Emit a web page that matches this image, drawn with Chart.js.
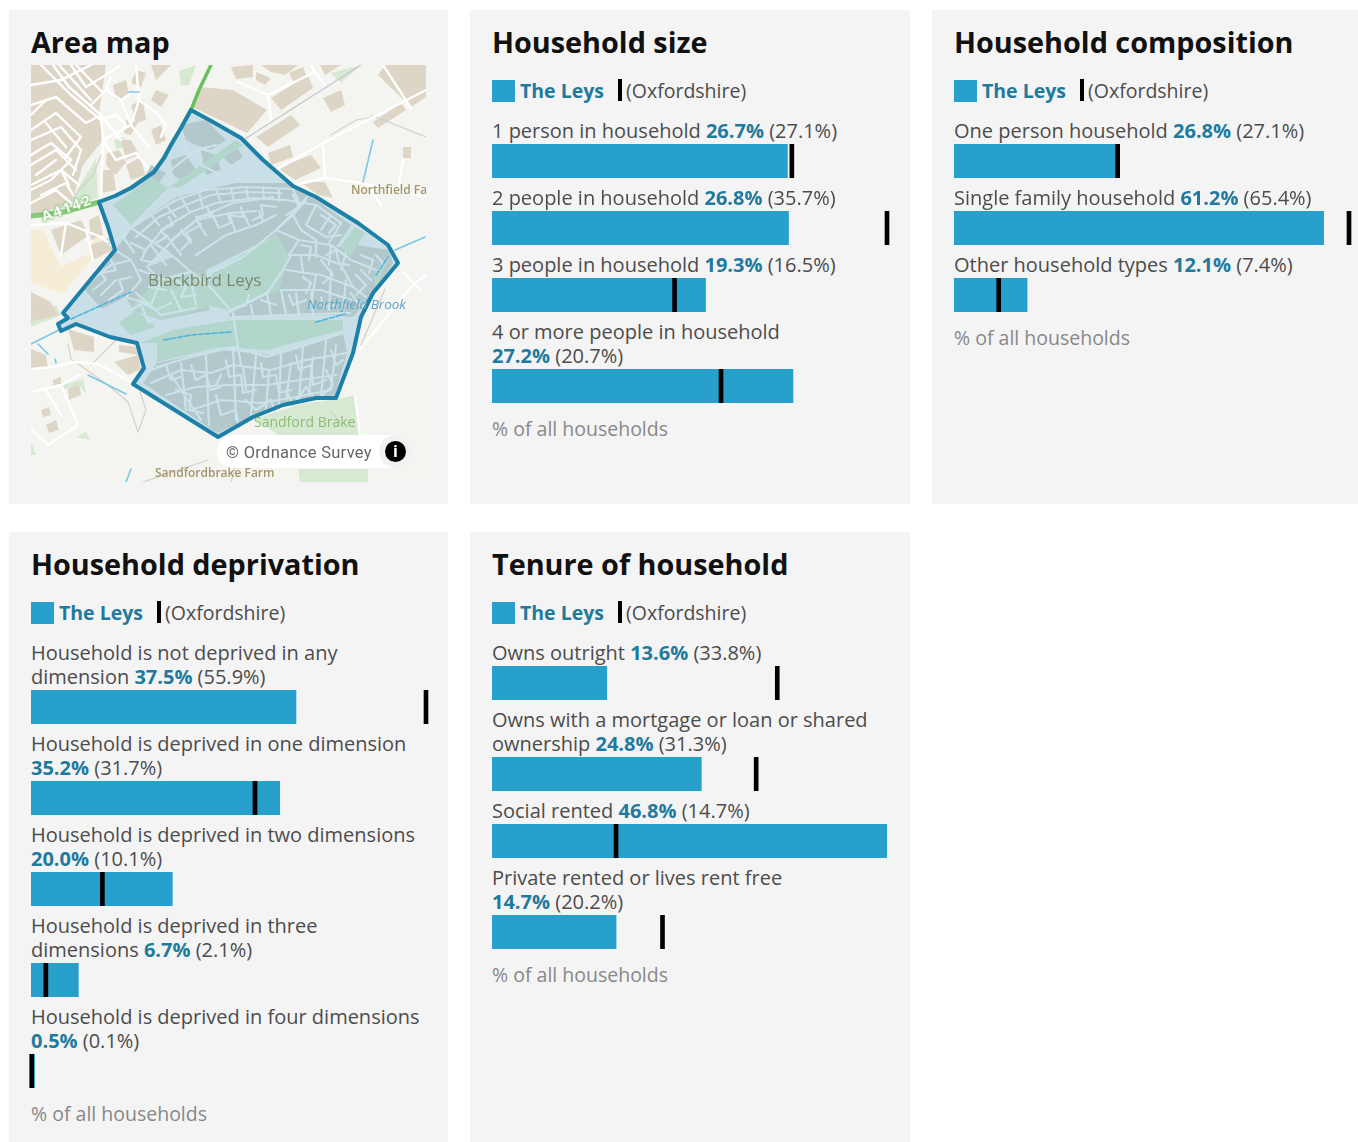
<!DOCTYPE html>
<html>
<head>
<meta charset="utf-8">
<title>The Leys households</title>
<script src="https://cdn.jsdelivr.net/npm/chart.js@4"></script>
<style>
  html, body { margin: 0; padding: 0; background: #fff; }
  body { position: relative; width: 1358px; height: 1142px; overflow: hidden; font-family: "Open Sans", sans-serif; color: #4c4c4c; }
  .panel { position: absolute; background: #f4f4f4; box-sizing: border-box; }
  .panel h2 { position: absolute; left: 22px; top: 14px; margin: 0; font-size: 28.8px; line-height: 36px; font-weight: 700; color: #111; white-space: nowrap; }
  .legend { position: absolute; left: 22px; top: 70px; height: 23px; font-size: 19.5px; line-height: 22px; white-space: nowrap; }
  .legend i { position: absolute; top: 0; }
  .legend .sq { left: 0; width: 23px; height: 22px; background: #27a0cc; }
  .legend .tick { width: 4px; height: 22px; background: #000; top: -1px; }
  .legend b, .row b { color: #1f7a9e; font-weight: 700; }
  .legend b { position: absolute; left: 28px; }
  .legend span { position: absolute; }
  .rows { position: absolute; left: 22px; top: 109px; width: 410px; }
  .row .label { font-size: 20px; line-height: 24px; white-space: pre-line; margin-bottom: 1px; }
  .row canvas { display: block; margin: 0 0 8px -3px; }
  .foot { margin-top: 14px; font-size: 19.5px; line-height: 24px; color: #888; }
  #mapBox { position: absolute; left: 22px; top: 55px; width: 395px; height: 417px; overflow: hidden; background: #f4f4f0; }
  #mapBox canvas { filter: blur(0.6px); }
  #mapBox div { position: absolute; white-space: nowrap; }
  .blackbird { left: 117px; top: 203px; font-size: 17px; color: #7d876e; }
  .brook { left: 276px; top: 230px; font-size: 13.5px; font-style: italic; color: #5aa5c8; }
  .farm { left: 320px; top: 116px; font-size: 12px; font-weight: 600; color: #a3966c; }
  .farm2 { left: 124px; top: 399px; font-size: 12px; font-weight: 600; color: #a3966c; }
  .brake { left: 223px; top: 347px; font-size: 14px; color: #8cbc72; }
  .road { left: 9px; top: 132px; font-size: 15px; font-weight: 700; letter-spacing: 1.6px; color: #fff; transform: rotate(-20deg); text-shadow: 0 0 2px #6fb95f, 0 0 2px #6fb95f, 0 0 3px #6fb95f; }
  .pill { left: 186px; top: 370px; width: 195px; height: 33px; background: #fff; border-radius: 16px; }
  .os { left: 195px; top: 377px; font-family: Roboto, sans-serif; font-size: 16.5px; line-height: 21px; letter-spacing: 0.3px; color: #666; }
  .halo { left: 348px; top: 370px; width: 33px; height: 33px; border-radius: 50%; background: #f1f1f1; }
  .info { left: 354px; top: 376px; width: 21px; height: 21px; border-radius: 50%; background: #000; color: #fff; text-align: center; font: 700 16px/21px "Open Sans", sans-serif; }
</style>
</head>
<body>
<script>
const leysColour = '#27a0cc';

// household size
const sizeCategories = ['1 person in household', '2 people in household', '3 people in household', '4 or more people in household\n'];
const sizeLeys = [26.7, 26.8, 19.3, 27.2];
const sizeOxon = [27.1, 35.7, 16.5, 20.7];

// household composition
const compCategories = ['One person household', 'Single family household', 'Other household types'];
const compLeys = [26.8, 61.2, 12.1];
const compOxon = [27.1, 65.4, 7.4];

// deprivation
const deprCategories = ['Household is not deprived in any\ndimension', 'Household is deprived in one dimension\n', 'Household is deprived in two dimensions\n', 'Household is deprived in three\ndimensions', 'Household is deprived in four dimensions\n'];
const deprLeys = [37.5, 35.2, 20.0, 6.7, 0.5];
const deprOxon = [55.9, 31.7, 10.1, 2.1, 0.1];

// tenure
const tenureCategories = ['Owns outright', 'Owns with a mortgage or loan or shared\nownership', 'Social rented', 'Private rented or lives rent free\n'];
const tenureLeys = [13.6, 24.8, 46.8, 14.7];
const tenureOxon = [33.8, 31.3, 14.7, 20.2];

// map shapes, flat x,y lists in map units
const mapBoundary = [160,45,182,57,210,73,232,95,262,121,285,132,327,158,357,180,367,198,342,228,330,252,322,288,305,333,285,333,252,340,222,352,187,372,102,319,113,303,106,278,79,272,45,259,30,266,27,259,37,253,32,248,84,185,77,162,68,137,84,131,100,123,123,107,133,93,140,80,150,63,160,45];
const mapSand = [[0,165,12,165,29,202,59,188,65,165,72,185,58,198,32,228,0,218]];
const mapGreen = [[37,140,65,93,67,133],[13,42,23,35,30,48,22,53],[0,52,8,50,10,64,0,66],[148,6,165,0,158,20,150,20],[83,75,93,72,95,82,85,84],[224,354,270,339,307,334,325,330,329,370,247,370],[267,404,337,404,337,417,269,417],[45,372,55,367,59,375],[0,377,5,390,0,390],[32,320,52,314,55,329,50,322,33,324],[0,255,25,240,30,250,0,262],[300,8,330,0,310,18]];
const mapTan = [
  [0,0,75,0,68,48,72,75,52,100,40,140,0,150],[58,155,68,150,72,170,60,175],[20,165,50,155,58,170,30,190],[60,180,80,172,82,185,62,195],
  [169,22,202,25,236,45,216,68,189,55,161,42],[240,33,277,10,282,23,250,45],[225,72,260,50,269,60,237,82],[230,0,267,0,254,10,240,7],[289,0,310,0,294,10],
  [354,0,395,0,395,32,380,42,347,10],[292,33,310,25,314,40,300,47],[225,7,240,13,234,20,225,15],[342,57,370,38,375,45,347,63],[372,82,380,82,380,93,372,93],
  [237,88,259,80,262,92,240,100],[247,103,280,90,290,103,264,115],[269,117,294,117,302,133,287,130],[258,8,272,2,276,12,262,16],[200,2,222,0,222,12,205,14],
  [100,40,112,35,115,55,105,58],[120,65,130,60,135,75,125,80],[95,55,107,57,100,70,93,68],[120,0,140,0,125,15],[90,75,100,75,108,90,95,95],[76,88,88,85,95,97,85,110,75,100],[105,5,115,8,110,22,100,18],[125,25,138,30,130,42,120,35],[82,20,95,15,98,30,85,35],[70,105,82,105,85,125,72,128],[95,100,110,92,114,110,100,115],
  [37,264,63,272,63,287,43,285],[88,280,107,282,108,290,88,287],[83,297,107,290,110,304,97,310],[0,284,15,290,17,304,0,305],[37,324,48,320,50,330,38,335],[0,227,20,237,27,250,0,257],[10,345,18,342,20,350,12,352],[22,315,30,312,30,320,22,322],[15,360,25,355,28,365,18,368]
];
const mapRoads = [
  [0,20,30,15,60,0],[0,40,25,32,55,58,70,50],[22,0,38,22,70,50,72,75],[0,75,30,62,50,85,42,110],[0,100,25,85,45,105],[0,120,30,105,38,120],[0,138,25,125,40,138],[15,58,35,82],[40,0,55,22],[55,22,75,10,90,0],
  [10,0,40,30,70,55],[28,0,60,35],[45,0,72,28],[0,50,15,35],[0,65,25,48,50,72,35,92],[0,90,20,78,40,95,20,115,0,125],[5,110,25,95],[30,105,48,120],[10,130,35,118,42,130],[70,55,85,50,95,60,85,72],[75,25,90,35,105,25],[60,40,75,25,80,12],[90,35,100,60],
  [72,75,100,60,108,35,105,0],[72,75,85,95,105,88,118,105],[70,50,90,75],[72,75,70,130],[108,35,125,48,135,60,130,72],[100,60,118,82],
  [0,160,35,158,70,172,80,180],[35,158,30,190],[55,165,62,195],
  [245,105,294,77,370,38,395,25],[264,120,294,113,330,118,395,132],[292,80,294,113],[352,0,380,43],[207,17,237,30,240,53,237,60],[237,30,284,7,280,0],[284,7,294,20],
  [0,304,23,302,43,297,67,299,100,317],[0,327,30,320,47,360,17,380,0,364],[15,325,30,350],[30,320,48,310],[372,207,389,225],[329,284,382,220,395,210],[324,330,329,370],[337,120,350,140],[372,95,367,125]
];
const mapPaths = [[37,279,40,294,77,320,97,337,107,367,115,345,109,327],[112,417,177,395],[354,224,330,280],[309,357,300,347],[340,50,365,60,395,72],[300,70,325,55,342,52],[60,300,80,280,88,272],[205,400,200,417],[70,90,62,110,40,135]];
const mapWater = [[0,279,28,265],[364,185,394,172],[342,75,332,117],[100,404,95,417],[57,310,95,329],[7,279,17,289],[24,294,25,298],[98,27,108,27]];
const mapWaterInside = [[40,254,100,227],[345,210,357,192],[133,275,160,270,200,267],[285,257,314,249]];
const mapRail = [[330,0,217,72],[217,72,102,158,82,178]];
const mapHomes = [
  [84,185,102,162,142,175,116,202,102,228,69,245,52,225],[100,162,145,132,205,118,255,118,285,135,320,160,305,182,325,180,358,185,362,198,342,228,322,252,300,250,200,252,196,248,245,225,258,190,245,170,175,205,142,192],
  [116,202,142,192,175,205,178,245,130,255,102,245,95,232],[126,298,189,285,240,290,312,268,316,288,304,330,252,338,186,368,112,318],
  [150,60,175,55,195,75,180,85,165,80,155,75],[140,95,155,90,165,105,150,115,142,110],[170,85,185,90,190,105,175,110],[120,100,135,108,128,118,115,110],[190,90,205,80,212,92,200,100]
];
const mapParks = [
  [182,207,245,170,258,190,248,225,196,245,175,240],[100,242,130,212,160,205,180,215,175,243,130,255],[109,278,142,265,202,255,312,255,312,265,236,285,189,282,126,297,126,278],
  [82,140,120,112,137,123,100,160],[137,123,205,75,212,80,150,122],[309,182,324,162,334,168,319,192],[342,212,359,192,345,222],[88,258,105,245,125,262,100,270]
];
const mapStreets = [
  [100,163,120,150,145,135,175,125,215,122,262,124],[113,187,133,163,160,147,185,138,222,133,255,135,285,140,310,158],[140,175,165,155,200,148,225,146],[165,190,195,170,225,160,245,150],
  [120,150,128,160],[135,140,145,152],[150,132,158,146],[168,127,172,143],[185,124,190,138],[200,123,203,136],[215,122,217,134],[232,122,233,134],[248,124,248,136],[262,124,268,138],
  [150,165,160,178],[165,155,175,170],[180,147,188,163],[198,148,204,165],[212,148,218,160],[228,146,232,156],
  [275,135,262,150,270,165,285,175],[285,140,275,160,295,172,310,170],[300,150,290,165],[310,158,298,178],[262,150,245,165],
  [245,165,268,175,300,180,320,195,345,205],[258,190,285,190,310,200,322,222,335,232],[268,175,258,190],[285,175,285,192],[300,180,298,200],[315,188,310,205],[255,205,290,210,322,222],[270,192,272,208],[285,210,280,240],[300,205,298,245],[315,215,312,245],[330,205,340,215],[252,225,290,225,320,235],
  [196,248,236,228],[202,252,255,250,319,248],[220,240,222,252],[236,228,240,250],[250,225,255,250],[265,228,268,250],[280,228,282,250],
  [84,185,100,195,110,215,95,232],[60,215,80,200,100,195],[70,230,85,215],[75,180,95,170],[92,172,103,187],[116,202,130,215,160,207],[130,215,120,240,95,232],[105,228,130,250,165,243],[140,225,150,245],[160,215,165,240],[110,240,118,258],[135,170,150,190],[120,180,135,200],
  [100,163,85,178],[82,143,100,163,137,187,160,207,182,225,202,248,205,270,210,300],[52,225,75,250,92,268],[182,207,212,192,245,165,262,148,276,132],[116,202,142,175,169,152,202,138,242,132],[196,248,236,228,252,205,259,192],
  [126,302,160,292,202,282,236,292,275,280,312,268],[120,318,150,305,180,308,202,300,240,305,275,295,316,288],[135,330,165,322,200,320,235,320,270,315,305,310],[160,345,190,335,230,338,265,332,300,325],
  [150,298,155,345],[175,290,178,360],[202,282,205,355],[225,290,220,350],[250,288,248,340],[272,282,268,335],[295,275,290,332],[140,310,170,355],[190,310,185,320],[212,302,215,325],[238,305,235,345],[260,298,255,335],[282,292,278,330],[305,280,300,325],
  [140,105,165,85,185,80],[150,65,155,88],[170,100,200,115],
  [105,172,128,152,155,140,180,130,215,127,250,128],[125,178,135,172,130,165,142,160,138,152],[150,185,160,175,155,168,170,160,165,152,180,150,176,142],[190,162,200,158,197,150,212,152,210,142],[222,155,232,150,230,140,245,142],[255,150,268,142,262,130],[290,150,305,160,298,168],[270,180,280,182,278,195],[295,190,305,185,308,198,318,200],[330,190,342,195,338,208],[345,190,352,198,346,208],
  [120,305,135,300,140,315,150,312],[160,300,165,315,175,310,180,325,190,322],[195,295,198,312,210,310,212,328,225,325],[230,298,232,312,245,310,248,328,260,325],[265,290,268,305,280,300,282,320,295,315],[300,285,305,300,312,295],[145,325,160,330,158,345,172,348],[185,330,190,350,205,345,208,362],[215,335,225,345,240,335,245,350],[255,325,262,340,275,322,285,335],[295,305,302,320,292,330],
  [62,225,75,215,70,208,85,205,80,195],[78,235,92,225,88,215,100,212],[100,178,115,185,110,195,125,198],[108,205,122,210,118,222,135,225],[100,245,112,238,125,245,140,238],[145,215,155,222,150,232,165,230],
  [200,245,215,240,218,230],[230,235,245,240],[258,230,262,240,275,235],[290,232,292,242,305,240],[320,228,328,240],[272,212,280,218,275,228],[290,195,302,210,292,218],[325,210,335,220,325,230]
];
const mapA4142West = [0,151,33,147,68,137];
const mapA4142East = [68,137,84,131,100,123,123,107,133,93,140,80,150,63,160,45];
const mapA4142North = [160,45,168,25,180,0];

const toPoints = flat => {
  const out = [];
  for (let i = 0; i < flat.length; i += 2) out.push({ x: flat[i], y: flat[i + 1] });
  return out;
};

// fills a dataset's outline using the pixel positions the scales gave its points
const areaFill = {
  id: 'areaFill',
  beforeDatasetDraw(chart, args) {
    const colour = chart.data.datasets[args.index].areaColor;
    if (!colour) return;
    const pts = chart.getDatasetMeta(args.index).data;
    const c = chart.ctx;
    c.save();
    c.beginPath();
    pts.forEach((p, i) => i ? c.lineTo(p.x, p.y) : c.moveTo(p.x, p.y));
    c.closePath();
    c.fillStyle = colour;
    c.fill();
    c.restore();
  }
};

function area(flat, colour) {
  return { data: toPoints(flat), areaColor: colour, showLine: false, pointRadius: 0 };
}
function line(flat, colour, width, dash) {
  return { data: toPoints(flat), showLine: true, pointRadius: 0, borderColor: colour, borderWidth: width, borderDash: dash || [], borderJoinStyle: 'round', borderCapStyle: 'round' };
}

function makePanel(left, top, width, height, title) {
  const p = document.createElement('div');
  p.className = 'panel';
  p.style.cssText = `left:${left}px;top:${top}px;width:${width}px;height:${height}px`;
  const h = document.createElement('h2');
  h.textContent = title;
  p.appendChild(h);
  document.body.appendChild(p);
  return p;
}

function barPanel(left, top, width, height, title, categories, leys, oxon) {
  const p = makePanel(left, top, width, height, title);
  const legend = document.createElement('div');
  legend.className = 'legend';
  legend.innerHTML = '<i class="sq"></i><b>The Leys</b><i class="tick" style="left:126px"></i><span style="left:134px;">(Oxfordshire)</span>';
  p.appendChild(legend);
  const rows = document.createElement('div');
  rows.className = 'rows';
  p.appendChild(rows);
  const axisMax = Math.max(...leys, ...oxon);
  // the black marker is a thin floating bar, 4px wide at 395px of plot
  const half = 2 * axisMax / 395;
  categories.forEach((cat, i) => {
    const row = document.createElement('div');
    row.className = 'row';
    const label = document.createElement('div');
    label.className = 'label';
    const sep = cat.endsWith('\n') ? '' : ' ';
    label.innerHTML = `${cat}${sep}<b>${leys[i].toFixed(1)}%</b> (${oxon[i].toFixed(1)}%)`;
    row.appendChild(label);
    const canvas = document.createElement('canvas');
    canvas.width = 401;
    canvas.height = 34;
    canvas.style.width = '401px';
    canvas.style.height = '34px';
    row.appendChild(canvas);
    rows.appendChild(row);
    new Chart(canvas, {
      type: 'bar',
      data: {
        labels: [cat.trim()],
        datasets: [
          { data: [[oxon[i] - half, oxon[i] + half]], backgroundColor: '#000', grouped: false, barPercentage: 1, categoryPercentage: 1, clip: false },
          { data: [leys[i]], backgroundColor: leysColour, grouped: false, barPercentage: 1, categoryPercentage: 1 }
        ]
      },
      options: {
        indexAxis: 'y',
        responsive: false,
        animation: false,
        events: [],
        layout: { padding: { left: 3, right: 3, top: 0, bottom: 0 } },
        plugins: { legend: { display: false }, tooltip: { enabled: false } },
        scales: {
          x: { display: false, min: 0, max: axisMax },
          y: { display: false }
        }
      }
    });
  });
  const foot = document.createElement('div');
  foot.className = 'foot';
  foot.textContent = '% of all households';
  rows.appendChild(foot);
}

function mapPanel() {
  const p = makePanel(9, 10, 439, 494, 'Area map');
  const box = document.createElement('div');
  box.id = 'mapBox';
  const canvas = document.createElement('canvas');
  canvas.width = 395;
  canvas.height = 417;
  canvas.style.cssText = 'display:block;width:395px;height:417px';
  box.appendChild(canvas);
  box.insertAdjacentHTML('beforeend', `
    <div class="farm">Northfield Farm</div>
    <div class="brake">Sandford Brake</div>
    <div class="farm2">Sandfordbrake Farm</div>
    <div class="road">A4142</div>
    <div class="blackbird">Blackbird Leys</div>
    <div class="brook">Northfield Brook</div>
    <div class="pill"></div>
    <div class="os">© Ordnance Survey</div>
    <div class="halo"></div>
    <div class="info">i</div>`);
  p.appendChild(box);

  // drawn bottom to top, reversed below because Chart.js paints dataset 0 last
  const layers = [
    ...mapSand.map(s => area(s, '#f5edd6')),
    ...mapGreen.map(s => area(s, '#d8e9d3')),
    ...mapTan.map(s => area(s, '#ddd6c6')),
    ...mapPaths.map(s => line(s, '#d6d0c6', 1.2)),
    ...mapRoads.map(s => line(s, '#ffffff', 2.4)),
    ...mapWater.map(s => line(s, '#7cc8ea', 1.6)),
    ...mapRail.map(s => line(s, '#c4c4cc', 1.2)),
    line(mapA4142West, '#86c878', 5),
    line(mapA4142East, '#86c878', 4),
    line(mapA4142North, '#68bf5c', 3.4),
    area(mapBoundary, '#c8dfe7'),
    ...mapHomes.map(s => area(s, '#b3c8ca')),
    ...mapParks.map(s => area(s, '#b3d6cc')),
    ...mapStreets.map(s => line(s, '#cbe2ea', 2.2)),
    ...mapWaterInside.map(s => line(s, '#4fb3de', 1.6, [5, 2])),
    line(mapBoundary, '#1c80a8', 4)
  ];
  new Chart(canvas, {
    type: 'scatter',
    data: { datasets: layers.reverse() },
    options: {
      responsive: false,
      animation: false,
      events: [],
      plugins: { legend: { display: false }, tooltip: { enabled: false } },
      scales: {
        x: { display: false, min: 0, max: 395 },
        y: { display: false, min: 0, max: 417, reverse: true }
      }
    },
    plugins: [areaFill]
  });
}

mapPanel();
barPanel(470, 10, 440, 494, 'Household size', sizeCategories, sizeLeys, sizeOxon);
barPanel(932, 10, 426, 494, 'Household composition', compCategories, compLeys, compOxon);
barPanel(9, 532, 439, 610, 'Household deprivation', deprCategories, deprLeys, deprOxon);
barPanel(470, 532, 440, 610, 'Tenure of household', tenureCategories, tenureLeys, tenureOxon);
</script>
</body>
</html>
